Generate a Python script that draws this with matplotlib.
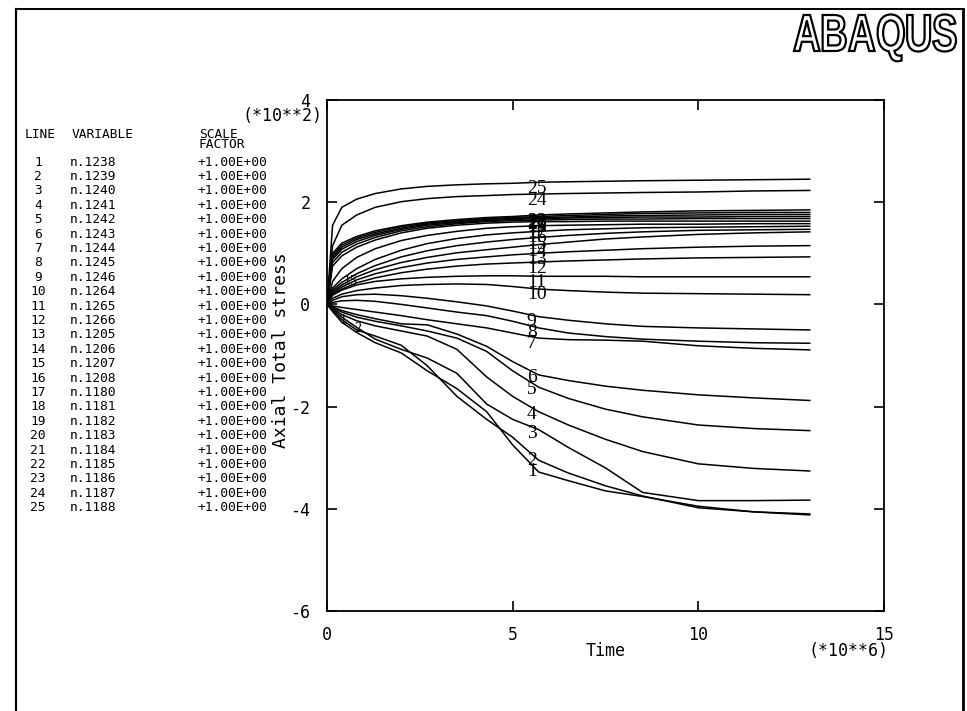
import numpy as np
import matplotlib
matplotlib.use("Agg")
import matplotlib.pyplot as plt
from matplotlib.textpath import TextPath
from matplotlib.patches import PathPatch
from matplotlib.font_manager import FontProperties
from matplotlib.transforms import Affine2D

W, H = 967, 711

# Time samples (x 10**6) shared by every history curve
time = [0, 0.15, 0.4, 0.8, 1.3, 2.0, 2.7, 3.5, 4.3, 5.0, 5.7, 6.5, 7.5, 8.5, 10.0, 11.5, 13.0]

# Axial total stress histories (x 10**2), one list per plotted node
line_1 = [0, -0.14, -0.35, -0.55, -0.75, -0.95, -1.30, -1.65, -2.10, -2.75, -3.28, -3.45, -3.65, -3.76, -3.95, -4.06, -4.12]
line_2 = [0, -0.12, -0.30, -0.50, -0.62, -0.80, -1.20, -1.80, -2.25, -2.60, -3.05, -3.30, -3.55, -3.75, -3.98, -4.06, -4.10]
line_3 = [0, -0.10, -0.25, -0.45, -0.68, -0.88, -1.05, -1.35, -1.95, -2.25, -2.45, -2.80, -3.20, -3.68, -3.84, -3.84, -3.83]
line_4 = [0, -0.08, -0.20, -0.32, -0.42, -0.52, -0.62, -0.88, -1.42, -1.80, -2.10, -2.36, -2.64, -2.88, -3.12, -3.21, -3.26]
line_5 = [0, -0.06, -0.15, -0.25, -0.33, -0.42, -0.52, -0.66, -0.92, -1.30, -1.62, -1.84, -2.05, -2.20, -2.36, -2.43, -2.47]
line_6 = [0, -0.05, -0.12, -0.20, -0.28, -0.38, -0.40, -0.58, -0.82, -1.12, -1.38, -1.49, -1.60, -1.68, -1.77, -1.83, -1.88]
line_7 = [0, -0.03, -0.06, -0.10, -0.15, -0.22, -0.30, -0.38, -0.46, -0.56, -0.66, -0.69, -0.70, -0.72, -0.81, -0.86, -0.89]
line_8 = [0, 0.04, 0.07, 0.08, 0.06, 0.00, -0.07, -0.15, -0.22, -0.33, -0.46, -0.56, -0.63, -0.68, -0.72, -0.75, -0.76]
line_9 = [0, 0.08, 0.15, 0.19, 0.20, 0.17, 0.12, 0.05, -0.03, -0.13, -0.24, -0.31, -0.38, -0.43, -0.46, -0.48, -0.50]
line_10 = [0, 0.12, 0.20, 0.27, 0.32, 0.37, 0.39, 0.40, 0.39, 0.35, 0.30, 0.27, 0.24, 0.22, 0.21, 0.20, 0.19]
line_11 = [0, 0.18, 0.28, 0.38, 0.45, 0.50, 0.53, 0.55, 0.56, 0.56, 0.55, 0.55, 0.55, 0.54, 0.54, 0.54, 0.54]
line_12 = [0, 0.20, 0.30, 0.42, 0.52, 0.62, 0.69, 0.75, 0.79, 0.81, 0.83, 0.85, 0.87, 0.89, 0.91, 0.92, 0.93]
line_13 = [0, 0.22, 0.34, 0.48, 0.60, 0.72, 0.81, 0.88, 0.93, 0.97, 1.00, 1.03, 1.06, 1.09, 1.12, 1.14, 1.15]
line_14 = [0, 0.25, 0.38, 0.54, 0.68, 0.82, 0.92, 1.01, 1.07, 1.12, 1.17, 1.22, 1.28, 1.32, 1.37, 1.40, 1.42]
line_15 = [0, 0.28, 0.43, 0.60, 0.76, 0.93, 1.05, 1.15, 1.22, 1.27, 1.31, 1.35, 1.39, 1.42, 1.45, 1.46, 1.47]
line_16 = [0, 0.32, 0.50, 0.70, 0.88, 1.06, 1.19, 1.29, 1.36, 1.40, 1.43, 1.46, 1.48, 1.50, 1.51, 1.52, 1.53]
line_17 = [0, 0.45, 0.70, 0.92, 1.09, 1.25, 1.35, 1.43, 1.49, 1.52, 1.54, 1.55, 1.56, 1.57, 1.57, 1.58, 1.58]
line_18 = [0, 0.75, 0.95, 1.12, 1.26, 1.40, 1.49, 1.55, 1.59, 1.61, 1.62, 1.62, 1.63, 1.63, 1.63, 1.63, 1.63]
line_19 = [0, 0.82, 1.02, 1.18, 1.31, 1.44, 1.52, 1.58, 1.62, 1.64, 1.65, 1.66, 1.67, 1.67, 1.68, 1.68, 1.68]
line_20 = [0, 0.88, 1.08, 1.23, 1.35, 1.47, 1.55, 1.60, 1.64, 1.66, 1.68, 1.69, 1.70, 1.71, 1.71, 1.72, 1.72]
line_21 = [0, 0.92, 1.12, 1.27, 1.38, 1.49, 1.57, 1.62, 1.66, 1.68, 1.70, 1.71, 1.73, 1.74, 1.75, 1.76, 1.76]
line_22 = [0, 0.96, 1.16, 1.30, 1.41, 1.52, 1.59, 1.64, 1.68, 1.70, 1.72, 1.74, 1.76, 1.78, 1.79, 1.80, 1.80]
line_23 = [0, 1.00, 1.20, 1.33, 1.44, 1.54, 1.61, 1.66, 1.70, 1.72, 1.75, 1.77, 1.79, 1.81, 1.83, 1.84, 1.85]
line_24 = [0, 1.15, 1.55, 1.75, 1.90, 2.01, 2.07, 2.11, 2.13, 2.15, 2.16, 2.17, 2.18, 2.19, 2.20, 2.22, 2.23]
line_25 = [0, 1.55, 1.90, 2.06, 2.17, 2.26, 2.31, 2.34, 2.36, 2.37, 2.39, 2.40, 2.41, 2.42, 2.43, 2.44, 2.45]

curves = [line_1, line_2, line_3, line_4, line_5, line_6, line_7, line_8, line_9,
          line_10, line_11, line_12, line_13, line_14, line_15, line_16, line_17,
          line_18, line_19, line_20, line_21, line_22, line_23, line_24, line_25]

variables = ["n.1238", "n.1239", "n.1240", "n.1241", "n.1242", "n.1243", "n.1244",
             "n.1245", "n.1246", "n.1264", "n.1265", "n.1266", "n.1205", "n.1206",
             "n.1207", "n.1208", "n.1180", "n.1181", "n.1182", "n.1183", "n.1184",
             "n.1185", "n.1186", "n.1187", "n.1188"]
scale_factors = ["+1.00E+00"] * 25

x_ticks = [0, 5, 10, 15]
y_ticks = [-6, -4, -2, 0, 2, 4]

MONO = "DejaVu Sans Mono"
SERIF = "Liberation Serif"

fig = plt.figure(figsize=(W / 100, H / 100), dpi=100)
fig.patch.set_facecolor("white")

# Page layer in pixel coordinates (y grows downward)
page = fig.add_axes([0, 0, 1, 1])
page.set_xlim(0, W)
page.set_ylim(H, 0)
page.axis("off")

# Sheet border
page.plot([16, 16], [H, 9], color="black", lw=1.6)
page.plot([16, 963], [9, 9], color="black", lw=1.4)
page.plot([963, 963], [9, H], color="black", lw=2.0)

# Outlined ABAQUS logo, letters spaced apart
logo_prop = FontProperties(family="Liberation Sans", weight="bold")
letters = "ABAQUS"
glyphs = [TextPath((0, 0), ch, size=1, prop=logo_prop) for ch in letters]
cap_h = glyphs[0].get_extents().height
widths = [g.get_extents().width for g in glyphs]
x_left, x_right, y_top, y_base = 794, 956, 15, 51
gap = 3.0
sx = (x_right - x_left - gap * (len(letters) - 1)) / sum(widths)
sy = (y_base - y_top) / cap_h
xc = x_left
for g, w in zip(glyphs, widths):
    e = g.get_extents()
    tr = (Affine2D().translate(-e.x0, 0).scale(sx, -sy).translate(xc, y_base))
    page.add_patch(PathPatch(tr.transform_path(g), facecolor="white",
                             edgecolor="black", lw=1.6))
    xc += w * sx + gap

# Curve key table
fs_tab = 9.3
page.text(25, 134, "LINE", family=MONO, fontsize=fs_tab, va="center", ha="left")
page.text(72, 134, "VARIABLE", family=MONO, fontsize=fs_tab, va="center", ha="left")
page.text(199, 134, "SCALE", family=MONO, fontsize=fs_tab, va="center", ha="left")
page.text(199, 145, "FACTOR", family=MONO, fontsize=fs_tab, va="center", ha="left")
for i, (var, sf) in enumerate(zip(variables, scale_factors)):
    yy = 162 + i * 14.4
    page.text(38, yy, str(i + 1), family=MONO, fontsize=fs_tab, va="center", ha="center")
    page.text(70, yy, var, family=MONO, fontsize=fs_tab, va="center", ha="left")
    page.text(198, yy, sf, family=MONO, fontsize=fs_tab, va="center", ha="left")

# Axis annotations
page.text(281, 350, "Axial Total stress", family=MONO, fontsize=13,
          rotation=90, va="center", ha="center")
page.text(323, 116, "(*10**2)", family=MONO, fontsize=12, va="center", ha="right")
page.text(606, 651, "Time", family=MONO, fontsize=12, va="center", ha="center")
page.text(889, 651, "(*10**6)", family=MONO, fontsize=12, va="center", ha="right")

# Main plot
ax = fig.add_axes([327 / W, 1 - 611 / H, 557 / W, 511 / H])
ax.set_facecolor("none")
ax.set_xlim(0, 15)
ax.set_ylim(-6, 4)
ax.set_xticks(x_ticks)
ax.set_yticks(y_ticks)
ax.set_xticklabels([str(v) for v in x_ticks], family=MONO, fontsize=12)
ax.set_yticklabels([str(v) for v in y_ticks], family=MONO, fontsize=12)
ax.tick_params(direction="in", length=7, width=1.2, top=True, right=True,
               colors="black")
ax.tick_params(axis="x", pad=11)
ax.tick_params(axis="y", pad=12)
for s in ax.spines.values():
    s.set_linewidth(1.3)

for vals in curves:
    ax.plot(time, vals, color="black", lw=1.1, solid_joinstyle="round")

# Curve numbers along the histories, hanging just under each curve
t_lab = 5.38
for i, vals in enumerate(curves):
    yv = np.interp(t_lab + 0.15, time, vals) - 0.12
    ax.text(t_lab, yv, str(i + 1), family=SERIF, fontsize=14, ha="left",
            va="center", color="black")

# Small curve numbers near the start of the run
for lab, tt in [("15", 0.45), ("1", 0.35), ("2", 0.75)]:
    idx = int(lab) - 1
    yv = np.interp(tt, time, curves[idx])
    ax.text(tt, yv, lab, family=SERIF, fontsize=10, ha="left", va="center")

fig.savefig("out.png", dpi=100, facecolor="white")
